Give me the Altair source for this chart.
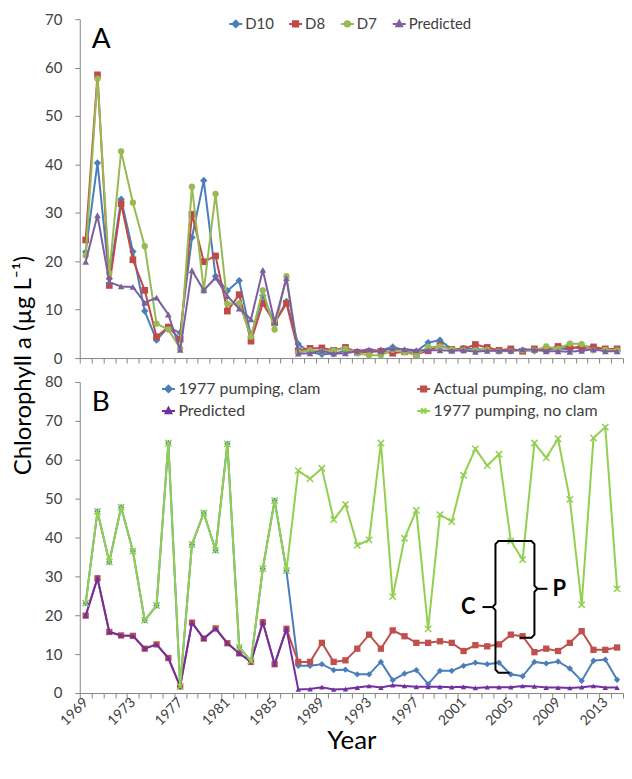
import altair as alt
import pandas as pd

# ---------------- data ----------------
years = list(range(1969, 2015))

# Panel A (observed stations and model prediction)
a_d10 = [21.9, 40.3, 16.4, 32.8, 22.0, 9.7, 3.7, 6.4, 5.2, 24.9, 36.7, 16.9, 13.9, 16.0, 4.5, 12.9, 7.2, 11.7,
         2.9, 1.2, 0.8, 0.9, 1.5, 1.3, 1.2, 1.6, 2.3, 1.6, 1.4, 3.2, 3.7, 1.8, 2.0, 1.9, 1.7, 1.5, 1.7, 1.6,
         1.5, 1.8, 2.0, 1.8, 2.6, 2.2, 1.6, 1.5]
a_d8 = [24.4, 58.5, 15.0, 31.9, 20.3, 14.0, 4.4, 6.4, 3.9, 29.7, 19.9, 21.1, 9.7, 13.1, 3.5, 11.3, 7.3, 11.3,
        1.5, 2.0, 2.1, 1.6, 2.2, 1.2, 1.3, 1.4, 1.0, 1.3, 0.8, 1.5, 2.6, 1.8, 1.9, 2.8, 2.2, 1.6, 1.9, 1.4,
        1.9, 1.8, 2.4, 2.3, 2.0, 2.3, 1.9, 1.9]
a_d7 = [21.2, 57.7, 17.5, 42.7, 32.1, 23.1, 7.1, 5.9, 2.0, 35.4, 14.0, 33.9, 11.2, 11.3, 4.4, 14.0, 5.9, 16.9,
        1.2, 1.6, 1.4, 1.6, 1.9, 1.0, 0.6, 0.6, 1.7, 1.2, 0.6, 2.3, 2.4, 1.8, 1.6, 1.6, 1.7, 1.4, 1.4, 1.6,
        1.6, 2.4, 1.9, 3.0, 2.9, 1.6, 1.7, 1.6]
predicted = [19.9, 29.5, 15.7, 14.8, 14.7, 11.4, 12.5, 9.0, 1.7, 18.1, 14.0, 16.6, 12.8, 10.2, 8.0, 18.2, 7.4, 16.5,
             0.9, 1.0, 1.5, 0.9, 1.0, 1.4, 1.8, 1.4, 2.0, 1.8, 1.6, 1.6, 1.6, 1.5, 1.6, 1.3, 1.5, 1.5, 1.5, 1.8,
             1.7, 1.4, 1.4, 1.3, 1.5, 1.8, 1.4, 1.4]

# Panel B (scenarios)
b_1977_clam = [23.1, 46.7, 33.7, 47.8, 36.5, 18.7, 22.5, 64.3, 1.7, 38.2, 46.3, 36.7, 64.1, 11.8, 8.2, 32.0, 49.5, 31.5,
               7.0, 7.0, 7.4, 5.9, 6.0, 4.8, 4.8, 8.0, 3.3, 5.0, 5.9, 2.3, 5.7, 5.7, 7.0, 7.8, 7.4, 7.8, 4.8, 4.3,
               8.0, 7.6, 8.1, 6.3, 3.1, 8.3, 8.6, 3.4]
b_actual_noclam = [19.9, 29.5, 15.7, 14.8, 14.7, 11.4, 12.5, 9.0, 1.7, 18.1, 14.0, 16.6, 12.8, 10.2, 8.0, 18.2, 7.4, 16.5,
                   8.0, 8.0, 12.9, 8.0, 8.4, 11.4, 15.0, 11.4, 16.1, 14.6, 12.9, 12.9, 13.3, 12.9, 10.8, 12.3, 12.0,
                   12.5, 15.0, 14.6, 10.5, 11.4, 10.8, 12.9, 15.9, 11.1, 11.1, 11.7]
b_1977_noclam = [23.1, 46.7, 33.7, 47.8, 36.5, 18.7, 22.5, 64.3, 1.7, 38.2, 46.3, 36.7, 64.1, 11.8, 8.2, 32.0, 49.5, 31.5,
                 57.2, 55.1, 57.8, 44.6, 48.5, 38.0, 39.4, 64.3, 24.8, 39.8, 47.0, 16.5, 45.9, 44.1, 56.0, 62.8, 58.5,
                 61.4, 39.1, 34.3, 64.3, 60.5, 65.4, 49.8, 22.7, 65.6, 68.4, 26.8]

a_names = ["D10", "D8", "D7", "Predicted"]
b_names = ["1977 pumping, clam", "Actual pumping, no clam", "Predicted", "1977 pumping, no clam"]

# annotation (braces C and P) in data units
brace_top = 39.1
c_x, c_mid, c_bot = 2003.7, 22.1, 5.2
p_x, p_mid, p_bot = 2007.0, 26.8, 14.2
c_label = (2001.4, 22.1)
p_label = (2009.1, 26.8)

# ---------------- styling ----------------
FONT = "Lato"
GRAY = "#868686"
TXT = "#404040"
W = 545
HA = 340
HB = 312
HALF_BAND = W / 46 / 2
XPATH = "M-1,-1L1,1M-1,1L1,-1"
LABEL_TEST = "(datum.value - 1968.5) % 4 == 0 && datum.value < 2014"

a_colors = ["#4a7ebb", "#be4b48", "#98b954", "#7d5fa0"]
a_shapes = ["diamond", "square", "circle", "triangle-up"]
a_sizes = [55, 45, 40, 45]
b_colors = ["#4a7ebb", "#c0504d", "#7030a0", "#92d050"]
b_shapes = ["diamond", "square", "triangle-up", XPATH]
b_sizes = [40, 40, 30, 40]

L_DIAMOND = "M-1,0H1M0,-0.5L0.5,0L0,0.5L-0.5,0Z"
L_SQUARE = "M-1,0H1M-0.4,-0.4H0.4V0.4H-0.4Z"
L_CIRCLE = "M-1,0H1M0.4,0A0.4,0.4,0,1,1,-0.4,0A0.4,0.4,0,1,1,0.4,0Z"
L_TRI = "M-1,0H1M0,-0.5L0.45,0.35H-0.45Z"
L_X = "M-1,0H1M-0.4,-0.4L0.4,0.4M-0.4,0.4L0.4,-0.4"
a_legend_shapes = [L_DIAMOND, L_SQUARE, L_CIRCLE, L_TRI]
b_legend_shapes = [L_DIAMOND, L_SQUARE, L_TRI, L_X]

tick_vals = [1968.5 + k for k in range(47)]
x_scale = alt.Scale(domain=[1968.5, 2014.5], nice=False, zero=False)


def long_df(names, arrays):
    rows = []
    for name, arr in zip(names, arrays):
        for yr, v in zip(years, arr):
            rows.append({"Year": yr, "value": v, "series": name})
    return pd.DataFrame(rows)


def y_axis(vmax, title=None):
    kw = dict(values=list(range(0, vmax + 1, 10)), grid=False, tickSize=5, labelPadding=13,
              labelFont=FONT, labelFontSize=15, labelColor=TXT, domainColor=GRAY, tickColor=GRAY)
    if title is None:
        kw["title"] = None
    else:
        kw.update(title=title, titleX=-44, titleY=-17, titleAngle=270, titleAlign="center",
                  titleBaseline="bottom", titleFont=FONT, titleFontSize=24, titleFontWeight="normal",
                  titleColor="#000000")
    return alt.Axis(**kw)


xa_axis = alt.Axis(values=tick_vals, labels=False, grid=False, tickSize=5, title=None,
                   domainColor=GRAY, tickColor=GRAY)
xb_axis = alt.Axis(values=tick_vals, grid=False, tickSize=5, domainColor=GRAY, tickColor=GRAY,
                   labelExpr="((datum.value - 1968.5) % 4 == 0) ? '' + (datum.value + 0.5) : ''",
                   labelAngle=315, labelAlign="right", labelBaseline="middle",
                   labelOffset={"condition": {"test": LABEL_TEST, "value": HALF_BAND}, "value": 0},
                   labelFontSize={"condition": {"test": LABEL_TEST, "value": 14}, "value": 0},
                   labelOverlap=False, labelFlush=False, labelFont=FONT, labelColor=TXT,
                   labelPadding=2, title="Year", titleFont=FONT, titleFontSize=26, titleFontWeight="normal",
                   titleColor="#000000", titlePadding=0)


def panel(names, arrays, colors, shapes, sizes, legend_shapes, vmax, xaxis, yaxis, legend, letter):
    df = long_df(names, arrays)
    x = alt.X("Year:Q", scale=x_scale, axis=xaxis)
    y = alt.Y("value:Q", scale=alt.Scale(domain=[0, vmax], nice=False), axis=yaxis)
    layers = []
    for name, col, shp, sz in zip(names, colors, shapes, sizes):
        base = alt.Chart(df).transform_filter(alt.datum.series == name)
        layers.append(base.mark_line(color=col, strokeWidth=2).encode(x=x, y=y))
        if shp == XPATH:
            layers.append(base.mark_point(shape=shp, filled=False, color=col, size=sz, strokeWidth=1.5,
                                          opacity=1).encode(x=x, y=y))
        else:
            layers.append(base.mark_point(shape=shp, filled=True, color=col, size=sz, opacity=1)
                          .encode(x=x, y=y))
    # legend-only layer (no rows drawn)
    leg = (alt.Chart(df).transform_filter("datum.value < -1000")
           .mark_point(filled=True, size=169, opacity=1, strokeWidth=2)
           .encode(x=x, y=y,
                   color=alt.Color("series:N", scale=alt.Scale(domain=names, range=colors), legend=legend),
                   stroke=alt.Stroke("series:N", scale=alt.Scale(domain=names, range=colors), legend=legend),
                   shape=alt.Shape("series:N", scale=alt.Scale(domain=names, range=legend_shapes),
                                   legend=legend)))
    layers.append(leg)
    lab = alt.Chart(pd.DataFrame({"t": [letter]})).mark_text(
        font=FONT, fontSize=28, align="left", baseline="middle", color="#000000"
    ).encode(x=alt.value(12), y=alt.value(21), text="t:N")
    layers.append(lab)
    return layers, x, y


legend_a = alt.Legend(orient="none", legendX=149, legendY=-3, direction="horizontal", title=None,
                      symbolSize=169, symbolStrokeWidth=2, labelFont=FONT, labelFontSize=15,
                      labelColor=TXT, columnPadding=11, labelOffset=2, labelLimit=400)
legend_b = alt.Legend(orient="none", legendX=81, legendY=-1, direction="horizontal", columns=2, title=None,
                      symbolSize=169, symbolStrokeWidth=2, labelFont=FONT, labelFontSize=16,
                      labelColor=TXT, columnPadding=92, rowPadding=6, labelOffset=2, labelLimit=400)

layers_a, xa, ya = panel(a_names, [a_d10, a_d8, a_d7, predicted], a_colors, a_shapes, a_sizes,
                         a_legend_shapes, 70, xa_axis, y_axis(70), legend_a, "A")
chart_a = alt.layer(*layers_a).properties(width=W, height=HA)

layers_b, xb, yb = panel(b_names, [b_1977_clam, b_actual_noclam, predicted, b_1977_noclam], b_colors,
                         b_shapes, b_sizes, b_legend_shapes, 80, xb_axis,
                         y_axis(80, "Chlorophyll a (µg L⁻¹)"), legend_b, "B")

# braces
rows = []


def add(seg, pts):
    for i, (px, py) in enumerate(pts):
        rows.append({"Year": px, "value": py, "seg": seg, "i": i})


add("c1", [(c_x + 1.65, brace_top), (c_x + 0.25, brace_top), (c_x, brace_top - 0.8), (c_x, c_mid + 0.8),
           (c_x - 0.25, c_mid), (c_x, c_mid - 0.8), (c_x, c_bot + 0.8), (c_x + 0.25, c_bot), (c_x + 1.2, c_bot)])
add("c2", [(c_x - 0.25, c_mid), (c_x - 1.1, c_mid)])
add("p1", [(p_x - 1.65, brace_top), (p_x - 0.25, brace_top), (p_x, brace_top - 0.8), (p_x, p_mid + 0.8),
           (p_x + 0.25, p_mid), (p_x, p_mid - 0.8), (p_x, p_bot + 0.8), (p_x - 0.25, p_bot), (p_x - 1.25, p_bot)])
add("p2", [(p_x + 0.25, p_mid), (p_x + 1.1, p_mid)])
brace_df = pd.DataFrame(rows)
braces = alt.Chart(brace_df).mark_line(color="#000000", strokeWidth=2).encode(
    x=xb, y=yb, detail="seg:N", order=alt.Order("i:Q"))
cp_df = pd.DataFrame({"Year": [c_label[0], p_label[0]], "value": [c_label[1], p_label[1]], "t": ["C", "P"]})
cp = alt.Chart(cp_df).mark_text(font=FONT, fontSize=22, fontWeight="bold", color="#000000",
                                align="center", baseline="middle").encode(x=xb, y=yb, text="t:N")

chart_b = alt.layer(*layers_b, braces, cp).properties(width=W, height=HB)

chart = (alt.vconcat(chart_a, chart_b, spacing=24, bounds="flush")
         .resolve_scale(color="independent", stroke="independent", shape="independent")
         .resolve_legend(color="independent", stroke="independent", shape="independent")
         .properties(padding={"left": 3, "top": 3, "right": 0, "bottom": 0}, background="white")
         .configure_view(stroke=None))

chart.save("out.html", embed_options={"renderer": "svg", "actions": False})
